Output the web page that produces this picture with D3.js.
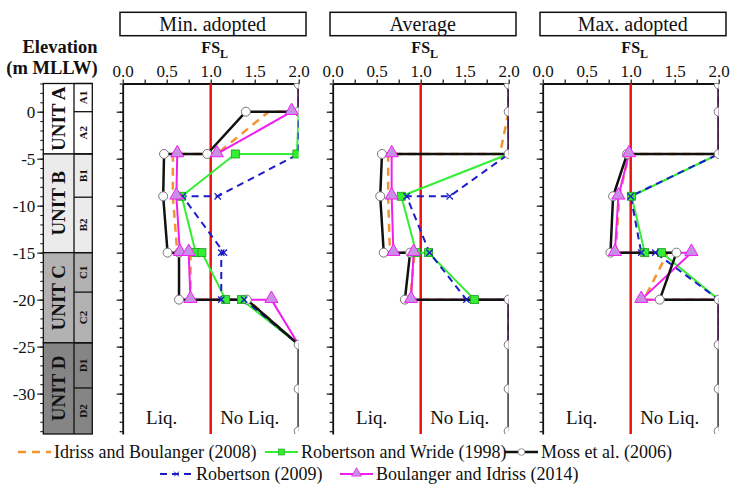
<!DOCTYPE html>
<meta charset="utf-8">
<script src="https://d3js.org/d3.v7.min.js"></script>
<style>
  body { margin: 0; background: #fff; }
  svg text { font-family: "Liberation Serif", "DejaVu Serif", "Noto Serif", serif !important; fill: #111; }
</style>
<div id="my_dataviz"></div>
<script>

// ---- data ----
var fsTicks = [0, 0.5, 1.0, 1.5, 2.0];
var elevTicks = [0, -5, -10, -15, -20, -25, -30];
var panelNames = ["Min. adopted", "Average", "Max. adopted"];

var unitNames = ["UNIT A", "UNIT B", "UNIT C", "UNIT D"];
var unitBounds = [3, -4.5, -15, -24.6, -34.3];
var subNames = ["A1", "A2", "B1", "B2", "C1", "C2", "D1", "D2"];
var subBounds = [3, 0, -4.5, -9.1, -15, -19.2, -24.6, -29.4, -34.3];

var seriesNames = ["Idriss and Boulanger (2008)", "Robertson and Wride (1998)", "Moss et al. (2006)",
                   "Robertson (2009)", "Boulanger and Idriss (2014)"];

// [FS_L, elevation] pairs, one list per panel (min, average, max)
var idrissMin = [[2.0,2.9],[2.0,0],[1.66,0],[1.07,-4.5],[0.57,-4.5],[0.57,-9],[0.62,-15],[0.77,-15],[0.77,-20],[1.42,-20],[2.0,-24.8]];
var idrissAvg = [[2.0,2.9],[2.0,0],[1.9,-4.5],[0.63,-4.5],[0.63,-9],[0.65,-15],[0.93,-15],[0.88,-20],[2.0,-20],[2.0,-24.8]];
var idrissMax = [[2.0,2.9],[2.0,0],[2.0,-4.5],[0.98,-4.5],[0.87,-9],[0.83,-15],[1.42,-15],[1.15,-20],[2.0,-20],[2.0,-24.8]];

var wrideMin = [[2.0,2.9],[2.0,0],[1.98,-4.5],[1.28,-4.5],[0.67,-9],[0.83,-15],[0.9,-15],[1.17,-20],[1.35,-20],[2.0,-24.8]];
var wrideAvg = [[2.0,2.9],[2.0,0],[2.0,-4.5],[0.78,-9],[0.95,-15],[1.09,-15],[1.61,-20],[2.0,-20],[2.0,-24.8]];
var wrideMax = [[2.0,2.9],[2.0,0],[2.0,-4.5],[1.01,-9],[1.16,-15],[1.35,-15],[2.0,-20],[2.0,-24.8]];

var mossMin = [[2.0,2.9],[2.0,0],[1.40,0],[0.96,-4.5],[0.47,-4.5],[0.46,-9],[0.51,-15],[0.64,-15],[0.64,-20],[1.41,-20],[2.0,-24.8],[2.0,-29.5],[2.0,-34]];
var mossAvg = [[2.0,2.9],[2.0,0],[2.0,-4.5],[0.56,-4.5],[0.54,-9],[0.58,-15],[0.88,-15],[0.82,-20],[2.0,-20],[2.0,-24.8],[2.0,-29.5],[2.0,-34]];
var mossMax = [[2.0,2.9],[2.0,0],[2.0,-4.5],[0.96,-4.5],[0.80,-9],[0.77,-15],[1.52,-15],[1.33,-20],[2.0,-20],[2.0,-24.8],[2.0,-29.5],[2.0,-34]];

var rob09Min = [[2.0,2.9],[2.0,0],[2.0,-4.5],[1.08,-9],[0.68,-9],[1.15,-15],[1.12,-15],[1.12,-20],[1.38,-20],[2.0,-24.8]];
var rob09Avg = [[2.0,2.9],[2.0,0],[2.0,-4.5],[1.33,-9],[0.84,-9],[1.1,-15],[1.52,-20],[2.0,-20],[2.0,-24.8]];
var rob09Max = [[2.0,2.9],[2.0,0],[2.0,-4.5],[1.0,-9],[1.12,-15],[1.28,-15],[2.0,-20],[2.0,-24.8]];

var bi14Min = [[2.0,2.9],[2.0,0],[1.92,0],[1.07,-4.5],[0.62,-4.5],[0.61,-9],[0.65,-15],[0.75,-15],[0.77,-20],[1.69,-20],[2.0,-24.8]];
var bi14Avg = [[2.0,2.9],[2.0,0],[2.0,-4.5],[0.67,-4.5],[0.67,-9],[0.69,-15],[0.92,-15],[0.89,-20],[2.0,-20],[2.0,-24.8]];
var bi14Max = [[2.0,2.9],[2.0,0],[2.0,-4.5],[0.98,-4.5],[0.86,-9],[0.82,-15],[1.69,-15],[1.12,-20],[2.0,-20],[2.0,-24.8]];

// ---- styles ----
var styles = [
  {color: "#f39332", width: 2.5, dash: "8,6", marker: null},
  {color: "#33ee33", width: 2, dash: null, marker: "square"},
  {color: "#111", width: 2.5, dash: null, marker: "circle"},
  {color: "#1c1cc8", width: 2, dash: "7,5", marker: "x"},
  {color: "#f01ef0", width: 2, dash: null, marker: "triangle"}
];
var lineOrder = [0, 1, 3, 4, 2];
var markerOrder = [2, 1, 3, 4];
var panelData = [
  [idrissMin, wrideMin, mossMin, rob09Min, bi14Min],
  [idrissAvg, wrideAvg, mossAvg, rob09Avg, bi14Avg],
  [idrissMax, wrideMax, mossMax, rob09Max, bi14Max]
];

var W = 731, H = 486;
var top0 = 83.5, bot0 = 434;
var panelLeft = [122.7, 332.7, 542.7], panelW = 176;
var serif = "'Liberation Serif', 'DejaVu Serif', serif";

var svg = d3.select("#my_dataviz").append("svg")
    .attr("width", W).attr("height", H)
    .attr("font-family", serif);

var y = d3.scaleLinear().domain([3, -34.3]).range([top0, bot0]);

function drawMarker(sel, type, st) {
  if (type == "circle") {
    sel.append("circle").attr("r", 4.5).attr("fill", "#fff").attr("stroke", "#777").attr("stroke-width", 1);
  } else if (type == "square") {
    sel.append("rect").attr("x", -4).attr("y", -4).attr("width", 8).attr("height", 8)
      .attr("fill", st.color).attr("stroke", "#1a9a1a").attr("stroke-width", 0.8);
  } else if (type == "triangle") {
    sel.append("path").attr("d", d3.symbol(d3.symbolTriangle, 75)())
      .attr("transform", "translate(0,-1)")
      .attr("fill", "#c98fe6").attr("stroke", st.color).attr("stroke-width", 1);
  } else if (type == "x") {
    sel.append("path").attr("d", d3.symbol(d3.symbolX, 28)())
      .attr("fill", "none").attr("stroke", st.color).attr("stroke-width", 1.3);
  }
}

// ---- elevation strip ----
var strip = svg.append("g");
var sx0 = 43.3, sx1 = 74, sx2 = 92.3;
var unitFill = ["#ffffff", "#ebebeb", "#b2b2b2", "#858585"];

unitNames.forEach(function(u, i) {
  var yt = y(unitBounds[i]), yb = y(unitBounds[i + 1]);
  strip.append("rect").attr("x", sx0).attr("y", yt).attr("width", sx2 - sx0).attr("height", yb - yt)
    .attr("fill", unitFill[i]).attr("stroke", "#111").attr("stroke-width", 1.3);
  strip.append("text")
    .attr("transform", "translate(" + ((sx0 + sx1) / 2 + 6.5) + "," + ((yt + yb) / 2) + ") rotate(-90)")
    .attr("text-anchor", "middle").style("font-size", "19px").style("font-weight", "bold")
    .text(u);
});
strip.append("line").attr("x1", sx1).attr("x2", sx1).attr("y1", top0).attr("y2", bot0)
  .attr("stroke", "#111").attr("stroke-width", 1.3);
subNames.forEach(function(s, i) {
  var yt = y(subBounds[i]), yb = y(subBounds[i + 1]);
  strip.append("line").attr("x1", sx1).attr("x2", sx2).attr("y1", yt).attr("y2", yt)
    .attr("stroke", "#111").attr("stroke-width", 1.3);
  strip.append("text")
    .attr("transform", "translate(" + ((sx1 + sx2) / 2 + 4) + "," + ((yt + yb) / 2) + ") rotate(-90)")
    .attr("text-anchor", "middle").style("font-size", "11px").style("font-weight", "bold")
    .text(s);
});

// strip axis
var minorElev = d3.range(3, -35, -1);
strip.append("g").attr("transform", "translate(" + sx0 + ",0)")
  .call(d3.axisLeft(y).tickValues(minorElev).tickSize(3).tickFormat("").tickSizeOuter(0))
  .call(function(g) { g.select(".domain").remove(); g.selectAll("line").attr("stroke", "#111"); });
strip.append("g").attr("transform", "translate(" + sx0 + ",0)")
  .call(d3.axisLeft(y).tickValues(elevTicks).tickSize(6).tickPadding(2).tickSizeOuter(0)
        .tickFormat(function(d) { return d3.format("d")(d).replace("−", "-"); }))
  .call(function(g) {
    g.attr("font-family", null);
    g.select(".domain").remove();
    g.selectAll("line").attr("stroke", "#111").attr("stroke-width", 1.2);
    g.selectAll("text").style("font-size", "17px");
  });

svg.append("text").attr("x", 60).attr("y", 53).attr("text-anchor", "middle")
  .style("font-size", "18.5px").style("font-weight", "bold").text("Elevation");
svg.append("text").attr("x", 52).attr("y", 74).attr("text-anchor", "middle")
  .style("font-size", "18.5px").style("font-weight", "bold").text("(m MLLW)");

// ---- panels ----
panelNames.forEach(function(name, p) {
  var g = svg.append("g").attr("transform", "translate(" + panelLeft[p] + ",0)");
  var x = d3.scaleLinear().domain([0, 2]).range([0, panelW]);

  // title box
  g.append("rect").attr("x", -2.7).attr("y", 12.3).attr("width", 186).attr("height", 23.4)
    .attr("fill", "#fff").attr("stroke", "#111").attr("stroke-width", 1.5);
  g.append("text").attr("x", 90).attr("y", 31).attr("text-anchor", "middle")
    .style("font-size", "20px").text(name);

  // FS_L label
  var lab = g.append("text").attr("x", 92).attr("y", 53).attr("text-anchor", "middle")
    .style("font-size", "16px").style("font-weight", "bold");
  lab.append("tspan").text("FS");
  lab.append("tspan").attr("dy", 5).style("font-size", "12px").text("L");

  // top axis
  g.append("g").attr("transform", "translate(0," + top0 + ")")
    .call(d3.axisTop(x).tickValues(d3.range(0, 2.01, 0.25)).tickSize(4).tickSizeOuter(0)
          .tickFormat(function(d) { return fsTicks.indexOf(d) >= 0 ? d3.format(".1f")(d) : ""; }))
    .call(function(a) {
      a.attr("font-family", null);
      a.select(".domain").attr("stroke", "#111").attr("stroke-width", 1.8);
      a.selectAll("line").attr("stroke", "#111").attr("stroke-width", 1.2);
      a.selectAll("text").style("font-size", "17px").attr("fill", "#111");
    });

  // left axis (no labels)
  g.append("g")
    .call(d3.axisLeft(y).tickValues(minorElev).tickSize(3).tickFormat("").tickSizeOuter(0))
    .call(function(a) {
      a.select(".domain").attr("stroke", "#111").attr("stroke-width", 1.8);
      a.selectAll("line").attr("stroke", "#111").attr("stroke-width", 1.2);
    });
  g.append("g")
    .call(d3.axisLeft(y).tickValues(elevTicks).tickSize(6).tickFormat("").tickSizeOuter(0))
    .call(function(a) {
      a.select(".domain").remove();
      a.selectAll("line").attr("stroke", "#111").attr("stroke-width", 1.2);
    });

  // FS = 1 line
  g.append("line").attr("x1", x(1)).attr("x2", x(1)).attr("y1", top0).attr("y2", bot0)
    .attr("stroke", "#ee1111").attr("stroke-width", 2.5);

  // clip at FS = 2.0 so the capped markers show as half symbols
  g.append("clipPath").attr("id", "clip" + p).append("rect")
    .attr("x", -1).attr("y", top0).attr("width", panelW + 1).attr("height", bot0 - top0);
  var plot = g.append("g").attr("clip-path", "url(#clip" + p + ")");

  var line = d3.line().x(function(d) { return x(d[0]); }).y(function(d) { return y(d[1]); });

  lineOrder.forEach(function(s) {
    var st = styles[s];
    plot.append("path").datum(panelData[p][s]).attr("d", line)
      .attr("fill", "none").attr("stroke", st.color).attr("stroke-width", st.width)
      .attr("stroke-dasharray", st.dash).attr("stroke-linejoin", "round");
  });
  markerOrder.forEach(function(s) {
    var st = styles[s];
    var pts = panelData[p][s].filter(function(d) { return st.marker == "circle" || d[0] < 2.0; });
    plot.selectAll(".m" + s).data(pts).enter().append("g")
      .attr("transform", function(d) { return "translate(" + x(d[0]) + "," + y(d[1]) + ")"; })
      .each(function() { drawMarker(d3.select(this), st.marker, st); });
  });

  g.append("text").attr("x", 39).attr("y", 424).attr("text-anchor", "middle")
    .style("font-size", "19px").text("Liq.");
  g.append("text").attr("x", 127).attr("y", 424).attr("text-anchor", "middle")
    .style("font-size", "19px").text("No Liq.");
});

// ---- legend ----
var legendRows = [[0, 1, 2], [3, 4]];
var legendX = [[18, 265, 505], [160, 340]];
var legendY = [452, 474];
legendRows.forEach(function(row, r) {
  row.forEach(function(s, k) {
    var st = styles[s];
    var lg = svg.append("g").attr("transform", "translate(" + legendX[r][k] + "," + legendY[r] + ")");
    lg.append("line").attr("x1", 0).attr("x2", 33).attr("y1", 0).attr("y2", 0)
      .attr("stroke", st.color).attr("stroke-width", st.width).attr("stroke-dasharray", st.dash);
    if (st.marker) {
      var mg = lg.append("g").attr("transform", "translate(16.5,0) scale(0.75)");
      drawMarker(mg, st.marker, st);
    } else {
      lg.append("circle").attr("cx", 32).attr("r", 1.2).attr("fill", st.color);
    }
    lg.append("text").attr("x", 36).attr("y", 5.5).style("font-size", "18px").text(seriesNames[s]);
  });
});

</script>
